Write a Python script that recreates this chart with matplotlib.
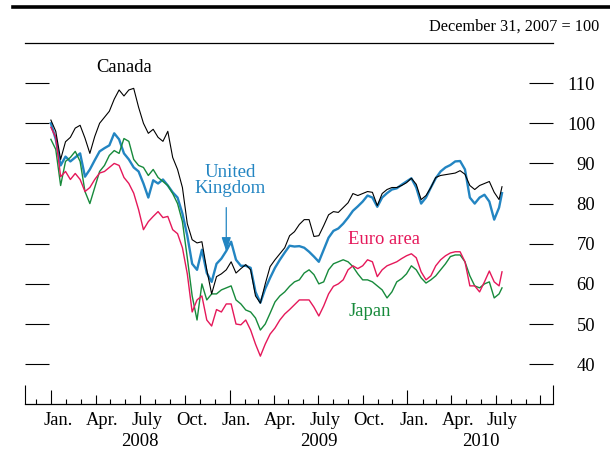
import matplotlib
matplotlib.use("Agg")
import matplotlib.pyplot as plt
import matplotlib.dates as mdates
from matplotlib.lines import Line2D
import pandas as pd

plt.rcParams["font.family"] = ["Liberation Serif", "DejaVu Serif"]

# observations every 10 days from the base date, plus the last one
dates = list(pd.date_range("2007-12-31", "2010-07-09", freq="10D")) + [pd.Timestamp("2010-07-14")]

canada = [
    100.8, 98, 91, 95.4, 96.5, 98.8, 99.5, 96.3, 92.5, 96.7,
    100, 101.5, 103, 106, 108.3, 106.8, 108.3, 108.7, 104, 100,
    97.5, 98.5, 96.5, 95.5, 98, 91.5, 88.5, 84, 75, 71,
    70.2, 70.5, 63.5, 57.5, 61.8, 62.5, 63.5, 65.5, 62.7, 63.8,
    64.8, 63.5, 57, 55.2, 60, 64.3, 66, 67.5, 69, 72,
    73, 74.8, 76, 76, 71.8, 72, 74.5, 77.2, 78, 77.8,
    79, 80.2, 82.5, 82, 82.5, 83, 82.8, 79.5, 82.5, 83.5,
    84, 84, 84.5, 85.2, 86.3, 84.8, 81, 82, 84, 86.5,
    87, 87.2, 87.4, 87.6, 88.2, 87.3, 84.5, 83.5, 84.5, 85,
    85.5, 82.8, 81, 84.2]

uk = [
    100, 96, 89.5, 91.7, 90.5, 91.5, 92.5, 86.7, 88.5, 90.8,
    93, 93.8, 94.5, 97.5, 96, 92.5, 91, 89, 88, 85,
    81.5, 85.8, 85, 86, 84.5, 82.8, 81.5, 77.5, 72, 65,
    63.5, 68.5, 62.7, 60.5, 65, 66.3, 68.2, 70.5, 66, 64.5,
    64.5, 64, 58, 55.3, 58.8, 61.5, 64, 66, 67.8, 69.5,
    69.3, 69.4, 69, 68, 66.8, 65.5, 68.5, 71.5, 73.2, 73.8,
    75, 76.5, 78.2, 79.3, 80.5, 82, 81.5, 79.2, 81.5, 82.6,
    83.5, 83.8, 84.7, 85.5, 86.3, 84, 80, 81.5, 84, 86.3,
    88, 89, 89.6, 90.5, 90.6, 88.5, 81.5, 80, 81.5, 82.2,
    80.5, 76, 79, 82.6]

euro = [
    99, 96.5, 86.7, 88, 86, 87.5, 86, 83, 84, 86,
    87.6, 88, 89, 90, 89.5, 86.5, 85, 82.6, 78.5, 73.5,
    75.5, 76.8, 78, 76.5, 76.8, 73.5, 72.5, 69, 62.5, 53,
    56, 57, 51, 49.5, 53.6, 53, 55, 55, 50, 49.8,
    51, 48.5, 45, 42, 45, 47.5, 49, 51, 52.5, 53.6,
    54.8, 56, 56, 56, 54.2, 52, 54.5, 57.5, 59.4, 60,
    61, 63.5, 64.5, 63.8, 64.5, 66, 65.5, 61.8, 63.5, 64.5,
    65, 65.5, 66.3, 67, 67.5, 66.5, 63, 61, 62, 64.5,
    66, 67, 67.7, 68, 68, 65.5, 59.5, 59.5, 58, 60.5,
    63.2, 60.5, 59.5, 63]

japan = [
    96, 93.5, 84.5, 90.5, 91.5, 93, 90.5, 83, 80, 84,
    88, 89.5, 92, 93.2, 92.5, 96.2, 95.5, 91, 89.5, 89,
    87, 88.5, 86.5, 85.5, 84.5, 82.5, 80, 75.5, 66.5, 57,
    51, 60, 56, 57.5, 57.5, 58.5, 59, 59.5, 56, 55,
    53.5, 53, 51.5, 48.5, 50, 52.7, 55.5, 57, 58, 59.4,
    60.5, 61, 62.7, 63.5, 62.3, 60, 60.5, 63.5, 65, 65.5,
    66, 65.5, 64.3, 62.5, 61, 61, 60.5, 59.5, 58.5, 56.5,
    58, 60.5, 61.3, 62.5, 64.5, 63.5, 61.5, 60.2, 61, 62,
    63.5, 65, 66.8, 67.2, 67.2, 65.5, 62, 59.5, 59, 60,
    60.5, 56.5, 57.5, 59]

y_ticks = [40, 50, 60, 70, 80, 90, 100, 110]
month_names = {1: "Jan.", 4: "Apr.", 7: "July", 10: "Oct."}

BLUE = "#2385c2"
PINK = "#e5185a"
GREEN = "#178a3b"

fig = plt.figure(figsize=(6.1, 4.51), dpi=100)
ax = fig.add_axes([0.0403, 0.1035, 0.8657, 0.8012])
ax_h_px = 0.8012 * 451

ax.plot(dates, uk, color=BLUE, lw=1.7)
ax.plot(dates, japan, color=GREEN, lw=1.0)
ax.plot(dates, euro, color=PINK, lw=1.0)
ax.plot(dates, canada, color="black", lw=0.8)

xmin, xmax = pd.Timestamp("2007-11-07"), pd.Timestamp("2010-10-26")
ax.set_xlim(xmin, xmax)
ax.set_ylim(30, 120)

for side in ["left", "right"]:
    ax.spines[side].set_visible(False)
ax.spines["top"].set_linewidth(0.9)
ax.spines["bottom"].set_linewidth(0.9)

# y axis: long inward dashes on both sides, labels on the right
ax.set_yticks(y_ticks)
ax.tick_params(axis="y", direction="in", length=17.3, width=0.8,
               left=True, right=True, labelleft=False, labelright=True,
               pad=30.5, labelsize=13.3)
for t in ax.get_yticklabels():
    t.set_ha("right")

# x axis: month marks of different heights (pixels), drawn up from the baseline
month_starts = list(pd.date_range("2007-12-01", "2010-10-01", freq="MS"))
locs = [xmin] + month_starts + [xmax]
heights = [19]
for m in month_starts:
    if m.month == 1:
        heights.append(14)
    elif m.month in (4, 7, 10):
        heights.append(9)
    else:
        heights.append(5)
heights.append(19)
ax.vlines(mdates.date2num(locs), 0, [h / ax_h_px for h in heights],
          transform=ax.get_xaxis_transform(), color="black", lw=0.8, clip_on=False)

ax.set_xticks([])
label_dates = [pd.Timestamp(y, m, 15) for y in (2008, 2009, 2010) for m in (1, 4, 7, 10)
               if not (y == 2010 and m == 10)]
ax.set_xticks(mdates.date2num(label_dates), minor=True)
ax.set_xticklabels([month_names[d.month] for d in label_dates], minor=True)
ax.tick_params(axis="x", which="minor", length=0, pad=5.5, labelsize=13.3, top=False)

for yr, mid in [("2008", "2008-07-01"), ("2009", "2009-07-03"), ("2010", "2010-06-01")]:
    ax.text(pd.Timestamp(mid), -0.104, yr, transform=ax.get_xaxis_transform(),
            ha="center", va="center", fontsize=13.5)

# series labels
ax.text(pd.Timestamp("2008-05-29"), 113.8, "Canada", ha="center", va="center", fontsize=13.4)
ax.text(pd.Timestamp("2009-01-02"), 85.8, "United\nKingdom", ha="center", va="center",
        fontsize=13.6, color=BLUE, linespacing=0.95)
ax.annotate("", xy=(pd.Timestamp("2008-12-25"), 68.1), xytext=(pd.Timestamp("2008-12-25"), 79),
            arrowprops=dict(arrowstyle="-|>,head_length=0.6,head_width=0.2",
                            color=BLUE, lw=0.9, mutation_scale=14, shrinkA=0, shrinkB=0))
ax.text(pd.Timestamp("2009-11-13"), 71, "Euro area", ha="center", va="center",
        fontsize=13.4, color=PINK)
ax.text(pd.Timestamp("2009-10-16"), 53, "Japan", ha="center", va="center",
        fontsize=13.4, color=GREEN)

# header rules and unit note
fig.add_artist(Line2D([13 / 610, 1], [1 - 6.5 / 451] * 2, lw=2.6, color="black",
                      transform=fig.transFigure))
fig.text(599 / 610, 1 - 27 / 451, "December 31, 2007 = 100", ha="right", va="center",
         fontsize=11.7)

fig.savefig("out.png", dpi=100)
